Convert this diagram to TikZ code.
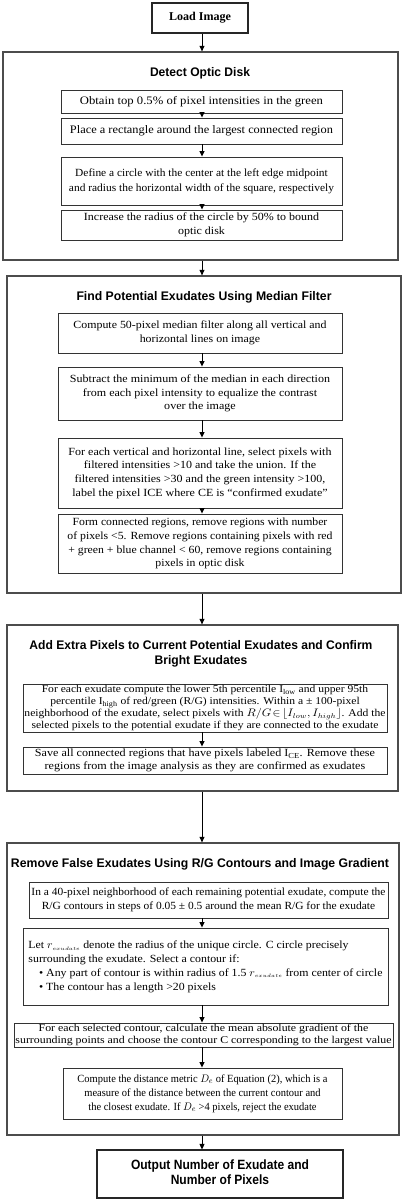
\documentclass[tikz,border=0pt]{standalone}
\usepackage{fontspec}
\usepackage{graphicx}
\setmainfont{Liberation Serif}
\newfontfamily\headfont{Liberation Sans}
\usetikzlibrary{arrows.meta}
\newcommand\fsz[2]{\fontsize{#1}{#2}\selectfont}
\newsavebox\tbox
\newcommand\tc[1]{\begin{tabular}{@{}c@{}}#1\end{tabular}}
\newcommand\tl[1]{\begin{tabular}{@{}l@{}}#1\end{tabular}}
\makeatletter
% target width (bp), font, body: stretch body horizontally to the target width
\newcommand\fitin[3]{%
  \sbox\tbox{#2#3}%
  \ifdim\wd\tbox>1pt
    \edef\sx{\strip@pt\dimexpr 1pt*\number\dimexpr#1bp\relax/\number\wd\tbox\relax}%
    \scalebox{\sx}[1]{\usebox\tbox}%
  \else\usebox\tbox\fi}
\makeatother
% name, x1, y1, x2, y2, style, font, target width, body
\newcommand\fitbox[9]{%
  \node[#6, minimum width={(#4-#2)*1bp}, minimum height={(#5-#3)*1bp}] (#1) at ({(#2+#4)/2},{(#3+#5)/2}) {\fitin{#8}{#7}{#9}};}
% name, x1, y1, x2, y2, style (empty box)
\newcommand\bx[6]{%
  \node[#6, minimum width={(#4-#2)*1bp}, minimum height={(#5-#3)*1bp}] (#1) at ({(#2+#4)/2},{(#3+#5)/2}) {};}
% name, x, y, font, target width, body
\newcommand\fittext[6]{%
  \node[inner sep=0pt] (#1) at (#2,#3) {\fitin{#5}{#4}{#6}};}
\begin{document}
\begin{tikzpicture}[x=1bp,y=-1bp,
  outerbox/.style={draw=black!70, line width=1.3bp, inner sep=0pt},
  inbox/.style={draw=black!80, line width=0.9bp, inner sep=0pt},
  termbox/.style={draw=black!85, line width=1.2bp, inner sep=0pt},
  arr/.style={draw=black, line width=0.9bp, -{Triangle[length=5.5bp,width=5bp]}}]
\useasboundingbox (0,0) rectangle (404,1200);
\fill[white] (0,0) rectangle (404,1200);
\coordinate (ax) at (202,0);

% Load image
\fitbox{L}{152}{3}{248}{33}{termbox}{\bfseries\fsz{12}{14}}{62}{\tc{Load Image}}

% Box 1
\bx{B1}{3}{52}{398}{260}{outerbox}
\fittext{T1}{200}{74}{\headfont\bfseries\fsz{12.5}{14.5}}{100}{\tc{Detect Optic Disk}}
\fitbox{a1}{61}{90}{342}{113}{inbox}{\fsz{11.5}{14}}{243}{\tc{Obtain top 0.5\% of pixel intensities in the green}}
\fitbox{a2}{61}{118}{342}{144}{inbox}{\fsz{11.5}{14}}{263}{\tc{Place a rectangle around the largest connected region}}
\fitbox{a3}{61}{157}{342}{205}{inbox}{\fsz{11}{15}}{265}{\tc{Define a circle with the center at the left edge midpoint\\and radius the horizontal width of the square, respectively}}
\fitbox{a4}{61}{210}{342}{240}{inbox}{\fsz{11}{13.5}}{235}{\tc{Increase the radius of the circle by 50\% to bound\\optic disk}}

% Box 2
\bx{B2}{7}{276}{401}{593}{outerbox}
\fittext{T2}{204}{298}{\headfont\bfseries\fsz{12.5}{14.5}}{255}{\tc{Find Potential Exudates Using Median Filter}}
\fitbox{b1}{58}{313}{342}{353}{inbox}{\fsz{11}{14}}{253}{\tc{Compute 50-pixel median filter along all vertical and\\horizontal lines on image}}
\fitbox{b2}{58}{367}{342}{420}{inbox}{\fsz{11}{13.5}}{260}{\tc{Subtract the minimum of the median in each direction\\from each pixel intensity to equalize the contrast\\over the image}}
\fitbox{b3}{58}{438}{342}{508}{inbox}{\fsz{11}{13.8}}{263}{\tc{For each vertical and horizontal line, select pixels with\\filtered intensities >10 and take the union. If the\\filtered intensities >30 and the green intensity >100,\\label the pixel ICE where CE is “confirmed exudate”}}
\fitbox{b4}{58}{514}{342}{573}{inbox}{\fsz{11}{13.7}}{265}{\tc{Form connected regions, remove regions with number\\of pixels <5. Remove regions containing pixels with red\\+ green + blue channel < 60, remove regions containing\\pixels in optic disk}}

% Box 3
\bx{B3}{7}{625}{398}{791}{outerbox}
\fittext{T3}{201}{654}{\headfont\bfseries\fsz{12.5}{14.5}}{343}{\tc{Add Extra Pixels to Current Potential Exudates and Confirm\\Bright Exudates}}
\fitbox{c1}{23}{684}{387}{732}{inbox}{\fsz{10.5}{12}}{361}{\tc{For each exudate compute the lower 5th percentile I\textsubscript{low} and upper 95th\\percentile I\textsubscript{high} of red/green (R/G) intensities. Within a ± 100-pixel\\neighborhood of the exudate, select pixels with $R/G\!\in\!\lfloor I_{low},I_{high}\rfloor$. Add the\\selected pixels to the potential exudate if they are connected to the exudate}}
\fitbox{c2}{23}{747}{387}{774}{inbox}{\fsz{11}{13}}{340}{\tc{Save all connected regions that have pixels labeled I\textsubscript{CE}. Remove these\\regions from the image analysis as they are confirmed as exudates}}

% Box 4
\bx{B4}{7}{843}{399}{1135}{outerbox}
\fittext{T4}{200}{865}{\headfont\bfseries\fsz{12.5}{14.5}}{378}{\tc{Remove False Exudates Using R/G Contours and Image Gradient}}
\fitbox{d1}{29}{882}{388}{918}{inbox}{\fsz{11}{14}}{354}{\tc{In a 40-pixel neighborhood of each remaining potential exudate, compute the\\R/G contours in steps of 0.05 ± 0.5 around the mean R/G for the exudate}}
\fitbox{d2}{23}{928}{388}{1005}{inbox}{\fsz{11}{14}}{354}{\tl{Let $r_{\scriptscriptstyle exudate}$ denote the radius of the unique circle. C circle precisely\\surrounding the exudate. Select a contour if:\\\hspace*{0.9em}• Any part of contour is within radius of 1.5 $r_{\scriptscriptstyle exudate}$ from center of circle\\\hspace*{0.9em}• The contour has a length >20 pixels}}
\fitbox{d3}{14}{1023}{393}{1047}{inbox}{\fsz{10.5}{12}}{376}{\tc{For each selected contour, calculate the mean absolute gradient of the\\surrounding points and choose the contour C corresponding to the largest value}}
\fitbox{d4}{63}{1068}{342}{1119}{inbox}{\fsz{11}{14}}{250}{\tc{Compute the distance metric $D_e$ of Equation (2), which is a\\measure of the distance between the current contour and\\the closest exudate. If $D_e$ >4 pixels, reject the exudate}}

% Output
\fitbox{O}{97}{1150}{343}{1198}{termbox}{\headfont\bfseries\fsz{13.5}{15}}{178}{\tc{Output Number of Exudate and\\Number of Pixels}}

% Arrows
\draw[arr] (L.south -| ax) -- (B1.north -| ax);
\draw[arr] (a1.south -| ax) -- (a2.north -| ax);
\draw[arr] (a2.south -| ax) -- (a3.north -| ax);
\draw[arr] (a3.south -| ax) -- (a4.north -| ax);
\draw[arr] (B1.south -| ax) -- (B2.north -| ax);
\draw[arr] (b1.south -| ax) -- (b2.north -| ax);
\draw[arr] (b2.south -| ax) -- (b3.north -| ax);
\draw[arr] (b3.south -| ax) -- (b4.north -| ax);
\draw[arr] (B2.south -| ax) -- (B3.north -| ax);
\draw[arr] (c1.south -| ax) -- (c2.north -| ax);
\draw[arr] (B3.south -| ax) -- (B4.north -| ax);
\draw[arr] (d1.south -| ax) -- (d2.north -| ax);
\draw[arr] (d2.south -| ax) -- (d3.north -| ax);
\draw[arr] (d3.south -| ax) -- (d4.north -| ax);
\draw[arr] (B4.south -| ax) -- (O.north -| ax);
\end{tikzpicture}
\end{document}
